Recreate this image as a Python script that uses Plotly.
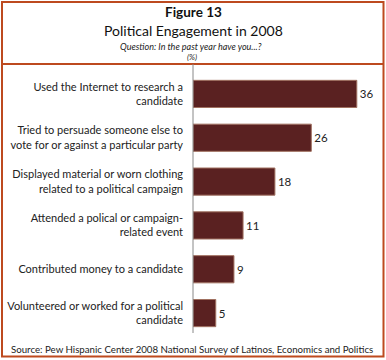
import plotly.graph_objects as go

categories = [
    "Used the Internet to research a<br>candidate",
    "Tried to persuade someone else to<br>vote for or against a particular party",
    "Displayed material or worn clothing<br>related to a political campaign",
    "Attended a polical or campaign-<br>related event",
    "Contributed money to a candidate",
    "Volunteered or worked for a political<br>candidate",
]
values = [36, 26, 18, 11, 9, 5]

W, H = 386, 360
L, R, T, B = 193, 11, 72, 25
pw, ph = W - L - R, H - T - B

def px(x):
    return (x - L) / pw

def py(y):
    return (H - B - y) / ph

FONT = "Lato"
BORDER = "#bd4a1f"

fig = go.Figure()
fig.add_trace(go.Bar(
    x=values, y=categories, orientation="h",
    marker=dict(color="#5a2121", line=dict(color="#a07060", width=1)),
    text=[str(v) for v in values], textposition="outside",
    textfont=dict(family=FONT, size=11.5, color="#222"),
    cliponaxis=False, hoverinfo="skip",
))

shapes = [
    dict(type="rect", xref="paper", yref="paper", x0=px(2), x1=px(383.5), y0=py(2), y1=py(356.5),
         line=dict(color=BORDER, width=2), fillcolor="rgba(0,0,0,0)", layer="above"),
    dict(type="line", xref="paper", yref="paper", x0=px(2), x1=px(383.5), y0=py(64), y1=py(64),
         line=dict(color=BORDER, width=2)),
    dict(type="line", xref="paper", yref="paper", x0=0, x1=0, y0=py(64), y1=py(333),
         line=dict(color="#888", width=1)),
]

annotations = [
    dict(text="<b>Figure 13</b>", x=px(193), y=py(12.5), font=dict(family=FONT, size=13.5, color="#111")),
    dict(text="Political Engagement in 2008", x=px(193), y=py(30.5), font=dict(family=FONT, size=14, color="#111")),
    dict(text="<i>Question: In the past year have you...?</i>", x=px(191), y=py(47), font=dict(family=FONT, size=9, color="#222")),
    dict(text="<i>(%)</i>", x=px(192), y=py(57.5), font=dict(family=FONT, size=8, color="#222")),
    dict(text="Source: Pew Hispanic Center 2008 National Survey of Latinos, Economics and Politics",
         x=px(192), y=py(349), font=dict(family=FONT, size=9.7, color="#222")),
]
for a in annotations:
    a.update(xref="paper", yref="paper", showarrow=False, xanchor="center", yanchor="middle")

fig.update_layout(
    width=W, height=H,
    margin=dict(l=L, r=R, t=T, b=B, autoexpand=False),
    paper_bgcolor="white", plot_bgcolor="white",
    showlegend=False, bargap=0.38,
    shapes=shapes, annotations=annotations,
    xaxis=dict(range=[0, 40], visible=False, fixedrange=True, automargin=False),
    yaxis=dict(autorange="reversed", showline=False, showgrid=False, zeroline=False, automargin=False,
               ticks="", ticklabelstandoff=9, tickfont=dict(family=FONT, size=11, color="#222"),
               fixedrange=True),
    font=dict(family=FONT),
)

fig.write_html("out.html", config={"displayModeBar": False},
               post_script="document.body.style.margin='0';document.body.style.overflow='hidden';")
